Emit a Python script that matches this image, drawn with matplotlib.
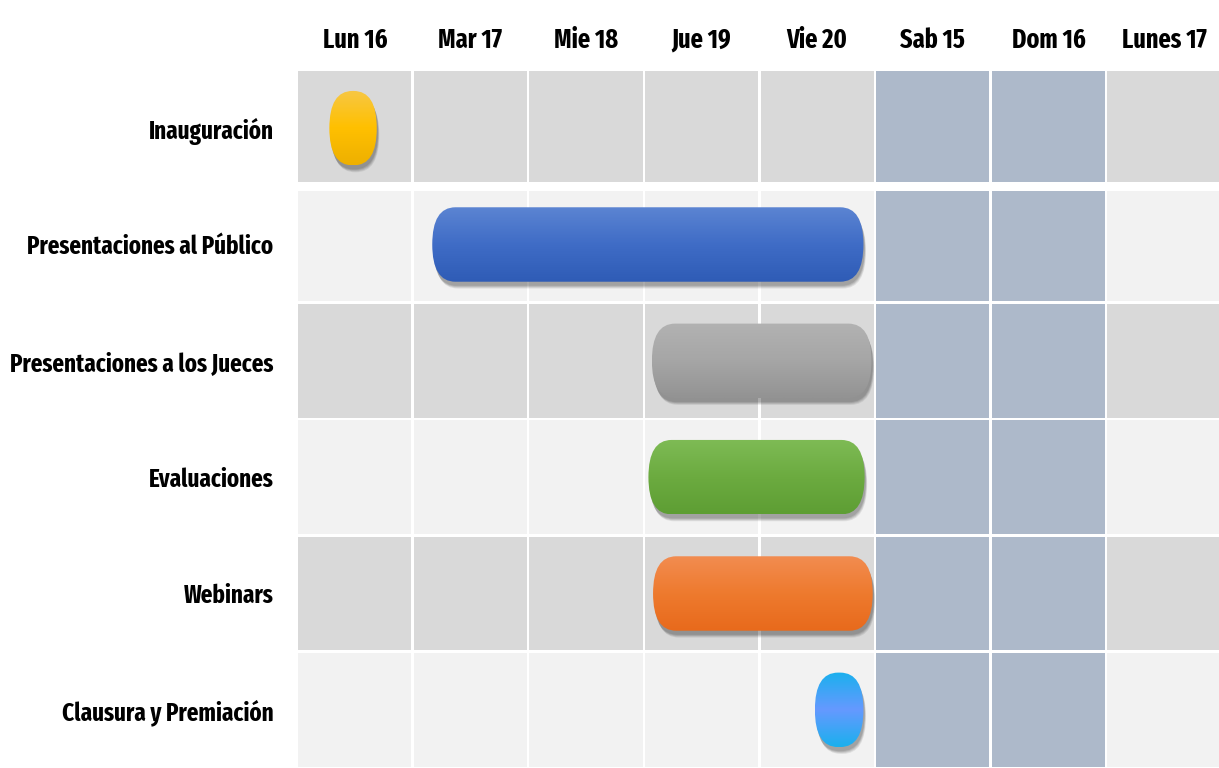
import numpy as np
import matplotlib
matplotlib.use('Agg')
import matplotlib.pyplot as plt
from matplotlib.patches import Rectangle, FancyBboxPatch
from matplotlib.colors import LinearSegmentedColormap

plt.rcParams['font.family'] = ['Fira Sans Extra Condensed', 'DejaVu Sans']

# columnas (días) y filas (actividades)
days = ['Lun 16', 'Mar 17', 'Mie 18', 'Jue 19', 'Vie 20', 'Sab 15', 'Dom 16', 'Lunes 17']
weekend = [False, False, False, False, False, True, True, False]
tasks = ['Inauguración', 'Presentaciones al Público', 'Presentaciones a los Jueces',
         'Evaluaciones', 'Webinars', 'Clausura y Premiación']
# inicio / fin de cada barra en unidades de día (0 = inicio de Lun 16)
starts = [0.28, 1.17, 3.07, 3.04, 3.08, 4.48]
ends = [0.69, 4.90, 4.97, 4.91, 4.98, 4.90]
# colores de degradado (arriba, centro, abajo)
bar_colors = [
    ['#f7c744', '#ffc000', '#eeb000'],
    ['#5b84d2', '#3f6cc6', '#2f5cb6'],
    ['#b2b2b2', '#a6a6a6', '#939393'],
    ['#7ebb55', '#6cab40', '#5e9e34'],
    ['#f28c50', '#ee7a2e', '#e86a1c'],
    ['#1bb0ee', '#6699ff', '#1bb0ee'],
]

W, H = 1219, 768
fig = plt.figure(figsize=(W / 100, H / 100), dpi=100)
ax = fig.add_axes([297 / W, 0, (W - 297) / W, (H - 70) / H])
ncol = len(days)
nrow = len(tasks)

# celdas de fondo
for r in range(nrow):
    row_col = '#d9d9d9' if r % 2 == 0 else '#f2f2f2'
    for c in range(ncol):
        col = '#adb9ca' if weekend[c] else row_col
        top = 0.012 if r != 1 else 0.04
        bot = 0.012 if r != 0 else 0.04
        ax.add_patch(Rectangle((c + 0.01, r + top), 0.98, 1 - top - bot,
                               facecolor=col, edgecolor='none', zorder=1))

# barras con sombra y degradado
hgt = 0.64
for r, (s, e, cols) in enumerate(zip(starts, ends, bar_colors)):
    y0 = r + 0.5 - hgt / 2
    for k, a in zip(range(4), [0.10, 0.10, 0.09, 0.08]):
        sh = FancyBboxPatch((s + 0.01 + 0.004 * k, y0 + 0.035 + 0.008 * k), e - s, hgt,
                            boxstyle='round,pad=0,rounding_size=0.2', mutation_aspect=1.6,
                            facecolor='black', edgecolor='none', alpha=a, zorder=2)
        ax.add_patch(sh)
    patch = FancyBboxPatch((s, y0), e - s, hgt,
                           boxstyle='round,pad=0,rounding_size=0.2', mutation_aspect=1.6,
                           facecolor='none', edgecolor='none', zorder=3)
    ax.add_patch(patch)
    cmap = LinearSegmentedColormap.from_list('g%d' % r, cols)
    grad = np.linspace(0, 1, 64).reshape(-1, 1)
    im = ax.imshow(grad, cmap=cmap, aspect='auto', extent=(s, e, y0 + hgt, y0),
                   zorder=3, interpolation='bilinear')
    im.set_clip_path(patch)

ax.set_xlim(0, (W - 297) / 115.6)
ax.set_ylim(nrow, 0)

# etiquetas
ax.xaxis.tick_top()
ax.set_xticks(np.arange(ncol) + 0.5)
ax.set_xticklabels(days, fontsize=19, fontweight='bold')
ax.set_yticks(np.arange(nrow) + 0.5)
ax.set_yticklabels(tasks, fontsize=18, fontweight='bold')
ax.tick_params(length=0, pad=17)
ax.tick_params(axis='x', pad=12)
for sp in ax.spines.values():
    sp.set_visible(False)

fig.savefig('out.png', dpi=100)
